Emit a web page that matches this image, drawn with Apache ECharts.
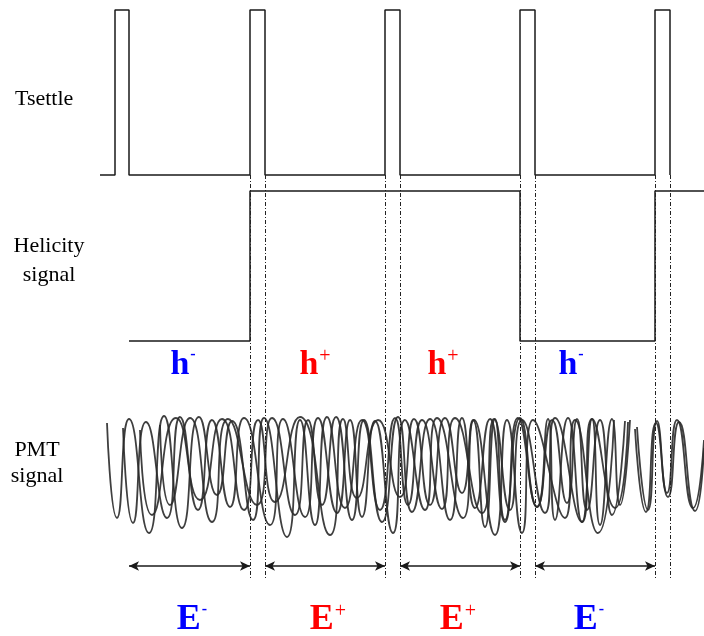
<!DOCTYPE html>
<html><head><meta charset="utf-8">
<script src="https://cdn.jsdelivr.net/npm/echarts@6/dist/echarts.min.js"></script>
<style>html,body{margin:0;padding:0;background:#fff}#c{width:704px;height:636px}</style>
</head><body><div id="c"></div>
<script>
// ---- data (time in arbitrary units along x, signal level along y) ----
const pulseStarts = [115, 250, 385, 520, 655];
const pulseWidths = [14, 15, 15, 15, 15];
const tsettleFrom = 100;
const tsettleLow = 175, tsettleHigh = 10;
const helicityLow = 341, helicityHigh = 191;
const helicityFrom = 129, helicityTo = 704;
// helicity state from each pulse start to the next
const helicityStates = ['-', '+', '+', '-', '+'];
// measurement windows between pulses
const windowSigns = ['-', '+', '+', '-'];
const hLabelX = [183, 315, 443, 571];
const eLabelX = [192, 328, 458, 589];
const hLabelLevel = 365, eLabelLevel = 620, arrowLevel = 566;
const markerTop = 175, markerBottom = 578;

// PMT signal traces: [time, level] extrema
const pmtA = [[107,423],[117,518],[129,419],[149,533],[164,416],[182,528],[199,417],[217,495],[232,421],[253,520],[264,418],[287,537],[300,420],[315,525],[327,417],[345,508],[362,420],[380,510],[395,418],[408,505],[422,420],[442,509],[455,418],[482,513],[494,419],[510,510],[522,420],[545,513],[555,418],[582,522],[592,419],[615,508],[628,422]];
const pmtB = [[123,428],[133,523],[146,422],[167,518],[180,417],[198,510],[212,420],[230,507],[244,418],[270,525],[283,419],[305,517],[318,418],[337,513],[350,420],[362,517],[375,421],[393,533],[405,420],[425,510],[437,418],[463,518],[474,420],[495,535],[507,420],[522,533],[533,420],[565,518],[575,420],[598,533],[614,420]];
const pmtC = [[140,430],[152,515],[176,418],[200,500],[222,419],[244,510],[258,420],[275,502],[300,417],[330,535],[343,419],[357,498],[378,420],[400,497],[414,419],[430,505],[445,418],[462,493],[473,420],[485,527],[495,419],[505,520],[520,418],[537,507],[552,420],[567,503],[577,419],[587,510],[600,420],[612,515],[625,421]];
const pmtD = [[160,425],[170,505],[190,418],[212,522],[228,419],[257,505],[272,418],[295,515],[308,420],[322,505],[336,417],[352,520],[364,420],[382,522],[398,417],[412,512],[430,419],[450,520],[462,418],[475,508],[490,419],[505,522],[518,418],[537,507],[548,419],[555,520],[568,418],[582,522],[592,419],[600,525],[612,419],[620,505],[630,420]];
const pmtE = [[637,427],[648,510],[657,421],[667,493],[677,420],[693,508],[704,440]];
const pmtF = [[635,429],[646,512],[656,423],[668,497],[679,422],[695,511],[704,448]];

// ---- build signal polylines from the data ----
const tsettle = [[tsettleFrom, tsettleLow]];
pulseStarts.forEach((s, i) => {
  const e = s + pulseWidths[i];
  tsettle.push([s, tsettleLow], [s, tsettleHigh], [e, tsettleHigh], [e, tsettleLow]);
});
const lv = s => s === '+' ? helicityHigh : helicityLow;
const helicity = [[helicityFrom, lv(helicityStates[0])]];
for (let i = 1; i < pulseStarts.length; i++) {
  const s = pulseStarts[i];
  helicity.push([s, lv(helicityStates[i - 1])], [s, lv(helicityStates[i])]);
}
helicity.push([helicityTo, lv(helicityStates[helicityStates.length - 1])]);

const markerLines = [];
for (let i = 1; i < pulseStarts.length; i++) {
  [pulseStarts[i], pulseStarts[i] + pulseWidths[i]].forEach(x => {
    markerLines.push([{coord: [x, markerTop]}, {coord: [x, markerBottom]}]);
  });
}
const arrows = [];
for (let i = 0; i < windowSigns.length; i++) {
  arrows.push([{coord: [pulseStarts[i] + pulseWidths[i], arrowLevel]}, {coord: [pulseStarts[i + 1], arrowLevel]}]);
}

const blue = '#0000ff', red = '#ff0000';
const serif = '"Liberation Serif","Times New Roman",serif';
const rich = {
  hM: {fontFamily: serif, fontSize: 34, fontWeight: 'bold', color: blue, lineHeight: 36, opacity: 1},
  hP: {fontFamily: serif, fontSize: 34, fontWeight: 'bold', color: red, lineHeight: 36, opacity: 1},
  eM: {fontFamily: serif, fontSize: 36, fontWeight: 'bold', color: blue, lineHeight: 36, opacity: 1},
  eP: {fontFamily: serif, fontSize: 36, fontWeight: 'bold', color: red, lineHeight: 36, opacity: 1},
  sM: {fontFamily: serif, fontSize: 16, fontWeight: 'bold', color: blue, verticalAlign: 'top', lineHeight: 16, padding: [0, 0, 0, 1], opacity: 1},
  sP: {fontFamily: serif, fontSize: 20, fontWeight: 'normal', color: red, verticalAlign: 'top', lineHeight: 20, padding: [0, 0, 0, 1], opacity: 1}
};
function labelSeries(name, xs, level, letter) {
  return {
    type: 'scatter', name, symbolSize: 0, silent: true,
    itemStyle: {opacity: 1},
    data: xs.map((x, i) => ({value: [x, level], sign: windowSigns[i]})),
    label: {
      show: true, position: 'inside', rich, opacity: 1,
      formatter: p => {
        const m = p.data.sign === '-';
        return '{' + (letter === 'h' ? 'h' : 'e') + (m ? 'M' : 'P') + '|' + letter + '}{' + (m ? 'sM|-' : 'sP|+') + '}';
      }
    }
  };
}
const pmtStyle = {color: '#2a2a2a', width: 1.8, opacity: 0.9};
function pmtSeries(name, d) {
  return {type: 'line', name, data: d, smooth: 0.6, symbol: 'none', lineStyle: pmtStyle, silent: true};
}

const chart = echarts.init(document.getElementById('c'), null, {renderer: 'canvas'});
chart.setOption({
  animation: false,
  backgroundColor: '#fff',
  grid: {left: 0, right: 0, top: 0, bottom: 0},
  xAxis: {type: 'value', min: 0, max: 704, show: false},
  yAxis: {type: 'value', min: 0, max: 636, inverse: true, show: false},
  graphic: [
    {type: 'text', left: 15, top: 88, style: {text: 'Tsettle', font: '22px ' + serif, fill: '#000'}},
    {type: 'text', x: 49, y: 232, style: {text: 'Helicity\nsignal', font: '22px ' + serif, fill: '#000', align: 'center', lineHeight: 29}},
    {type: 'text', x: 37, y: 437, style: {text: 'PMT\nsignal', font: '22px ' + serif, fill: '#000', align: 'center', lineHeight: 26}}
  ],
  series: [
    {type: 'line', name: 'Tsettle', data: tsettle, symbol: 'none', lineStyle: {color: '#1a1a1a', width: 1.5}, silent: true},
    {type: 'line', name: 'Helicity', data: helicity, symbol: 'none', lineStyle: {color: '#1a1a1a', width: 1.5}, silent: true,
      markLine: {silent: true, symbol: 'none', label: {show: false}, lineStyle: {color: '#222', width: 1, type: [4, 2, 1, 2]}, data: markerLines}},
    {type: 'line', name: 'Arrows', data: [], symbol: 'none', silent: true,
      markLine: {silent: true, symbol: ['arrow', 'arrow'], symbolSize: [7, 10], label: {show: false}, lineStyle: {color: '#1a1a1a', width: 1.6, type: 'solid'}, data: arrows}},
    pmtSeries('PMT A', pmtA), pmtSeries('PMT B', pmtB), pmtSeries('PMT C', pmtC),
    pmtSeries('PMT D', pmtD), pmtSeries('PMT E', pmtE), pmtSeries('PMT F', pmtF),
    labelSeries('h', hLabelX, hLabelLevel, 'h'),
    labelSeries('E', eLabelX, eLabelLevel, 'E')
  ]
});
</script></body></html>
